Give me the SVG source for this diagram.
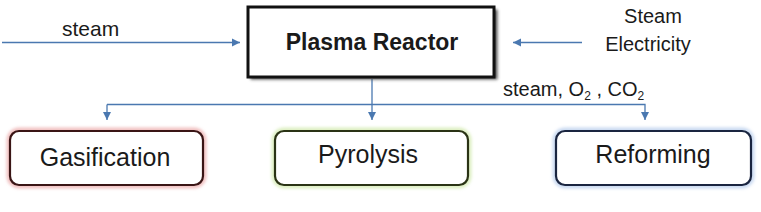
<svg xmlns="http://www.w3.org/2000/svg" width="761" height="212" viewBox="0 0 761 212">
<style>
.t{font-family:"Liberation Sans",Arial,sans-serif;fill:#1a1a1a}
.conn{stroke:#4a78b0;stroke-width:1.3;fill:none}
.glow{fill:none;stroke-width:7;stroke-opacity:0.6}
.box{fill:#fff;stroke-width:2.2}
</style>
<defs>
<marker id="ah" markerWidth="10" markerHeight="10" refX="9" refY="5" orient="auto" markerUnits="userSpaceOnUse">
<path d="M1,1 L9,5 L1,9 Z" fill="#4a78b0"/>
</marker>
<filter id="blur" x="-10%" y="-20%" width="120%" height="140%"><feGaussianBlur stdDeviation="1.5"/></filter>
</defs>
<rect width="761" height="212" fill="#fff"/>
<g id="connectors">
<line class="conn" x1="2" y1="42.5" x2="240" y2="42.5" marker-end="url(#ah)"/>
<line class="conn" x1="582" y1="42.5" x2="513" y2="42.5" marker-end="url(#ah)"/>
<line class="conn" x1="372" y1="79" x2="372" y2="120" marker-end="url(#ah)"/>
<polyline class="conn" points="107,104.5 645,104.5 645,120" marker-end="url(#ah)"/>
<line class="conn" x1="107" y1="104.5" x2="107" y2="120" marker-end="url(#ah)"/>
</g>
<g id="label-steam-left"><text class="t" x="62" y="36" font-size="21">steam</text></g>
<g id="label-steam-electricity">
<text class="t" x="653" y="23" font-size="20" text-anchor="middle">Steam</text>
<text class="t" x="648" y="51" font-size="20" text-anchor="middle">Electricity</text>
</g>
<g id="label-steam-o2-co2">
<text class="t" x="503" y="96" font-size="20">steam, O<tspan font-size="12" dy="4">2</tspan><tspan dy="-4"> , CO</tspan><tspan font-size="12" dy="4">2</tspan></text>
</g>
<g id="plasma-reactor">
<rect x="250.5" y="9.5" width="247" height="70" fill="#555" filter="url(#blur)"/>
<rect x="248" y="7" width="246" height="70" fill="#fff" stroke="#111" stroke-width="3"/>
<text class="t" x="372" y="50" font-size="23" font-weight="bold" text-anchor="middle">Plasma Reactor</text>
</g>
<g id="gasification">
<rect class="glow" x="10" y="131" width="193" height="54" rx="9" stroke="#e89a9a" filter="url(#blur)"/>
<rect class="box" x="10" y="131" width="193" height="54" rx="9" stroke="#3a1515"/>
<text class="t" x="105" y="166" font-size="25" text-anchor="middle">Gasification</text>
</g>
<g id="pyrolysis">
<rect class="glow" x="275" y="131" width="193" height="54" rx="9" stroke="#c6e49a" filter="url(#blur)"/>
<rect class="box" x="275" y="131" width="193" height="54" rx="9" stroke="#2a3315"/>
<text class="t" x="368" y="163" font-size="25" text-anchor="middle">Pyrolysis</text>
</g>
<g id="reforming">
<rect class="glow" x="556" y="131" width="195" height="54" rx="9" stroke="#a6c2e8" filter="url(#blur)"/>
<rect class="box" x="556" y="131" width="195" height="54" rx="9" stroke="#1a2540"/>
<text class="t" x="653" y="163" font-size="25" text-anchor="middle">Reforming</text>
</g>
</svg>
